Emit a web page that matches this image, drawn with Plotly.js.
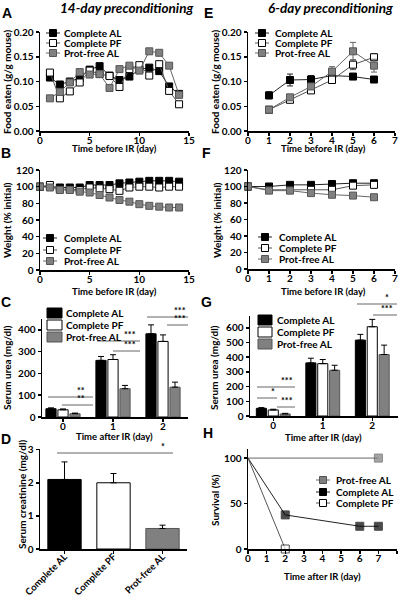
<!DOCTYPE html>
<html><head><meta charset="utf-8">
<script src="https://cdn.plot.ly/plotly-3.0.1.min.js"></script>
<style>html,body{margin:0;padding:0;background:#fff;}#chart{width:400px;height:600px;}</style>
</head><body><div id="chart"></div>
<script>
// ---------- DATA ----------
// A: food eaten, 14-day preconditioning
const daysA = [1,2,3,4,5,6,7,8,9,10,11,12,13,14];
const foodA_AL  = [0.108,0.094,0.100,0.107,0.124,0.131,0.112,0.103,0.110,0.124,0.128,0.121,0.090,0.075];
const foodA_PF  = [0.118,0.066,0.080,0.098,0.122,0.115,0.111,0.089,0.125,0.133,0.112,0.135,0.081,0.054];
const foodA_PrF = [0.066,0.079,0.098,0.119,0.114,0.115,0.087,0.125,0.132,0.122,0.161,0.158,0.132,0.073];
// B: weight, 14-day preconditioning
const daysB = [0,1,2,3,4,5,6,7,8,9,10,11,12,13,14];
const wtB_AL  = [100,100,99,99,99,102,102,102,104,105,106,107,107,107,106];
const wtB_PF  = [100,102,97,97,96,99,98,97,95,99,100,100,99,100,100];
const wtB_PrF = [100,99,96,96,94,93,90,87,84,82,79,77,76,75,75];
// E: food eaten, 6-day preconditioning
const daysE = [1,2,3,4,5,6];
const foodE_AL  = [0.072,0.103,0.104,0.112,0.110,0.104];
const foodE_AL_err  = [0.007,0.012,0.008,0.005,0.004,0.005];
const foodE_PF  = [0.043,0.063,0.082,0.103,0.134,0.149];
const foodE_PF_err  = [0.003,0.004,0.005,0.006,0.010,0.007];
const foodE_PrF = [0.043,0.068,0.090,0.120,0.161,0.132];
const foodE_PrF_err = [0.003,0.004,0.006,0.010,0.018,0.013];
// F: weight, 6-day preconditioning
const daysF = [0,1,2,3,4,5,6];
const wtF_AL  = [100,100,102,102,103,104,104];
const wtF_PF  = [100,96,96,96,96,101,102];
const wtF_PrF = [100,95,95,92,90,89,87];
// C: serum urea, 14-day
const daysIR = [0,1,2];
const ureaC_AL  = [38,260,382];   const ureaC_AL_err  = [4,18,41];
const ureaC_PF  = [33,264,347];   const ureaC_PF_err  = [4,22,30];
const ureaC_PrF = [15,130,137];   const ureaC_PrF_err = [3,15,23];
// G: serum urea, 6-day
const ureaG_AL  = [52,361,516];   const ureaG_AL_err  = [5,32,39];
const ureaG_PF  = [41,356,607];   const ureaG_PF_err  = [5,28,50];
const ureaG_PrF = [14,311,418];   const ureaG_PrF_err = [4,34,64];
// D: serum creatinine
const groupsD = ['Complete AL','Complete PF','Prot-free AL'];
const creatD = [2.1,2.0,0.62];
const creatD_err = [0.53,0.28,0.10];
// H: survival
const survPrF_x = [0,7];       const survPrF_y = [100,100];
const survAL_x  = [0,2,6,7];   const survAL_y  = [100,37.5,25,25];
const survPF_x  = [0,2];       const survPF_y  = [100,0];
// labels
const seriesNames = ['Complete AL','Complete PF','Prot-free AL'];

// ---------- STYLE ----------
const F = 'Lato, "Open Sans", sans-serif';
const W = 400, H = 600;
const px = v => v / W;
const py = v => 1 - v / H;
const dom = (a, b) => [a, b];
const BLACK = {fill:'#000', edge:'#000', line:'#222'};
const WHITE = {fill:'#fff', edge:'#000', line:'#555'};
const GRAY  = {fill:'#808080', edge:'#555', line:'#666'};
const styles = [BLACK, WHITE, GRAY];

function axis(domain, range, extra) {
  return Object.assign({
    domain: domain, range: range, showline: true, linecolor: '#000', linewidth: 1.5,
    ticks: 'outside', ticklen: 3, tickwidth: 1.5, tickcolor: '#000',
    showgrid: false, zeroline: false, fixedrange: true,
    tickfont: {family: F, size: 10, weight: 'bold', color: '#000'}
  }, extra || {});
}
function xaxis(domain, range, extra) {
  return axis(domain, range, Object.assign({ticklabelstandoff: -4}, extra || {}));
}

function lineTrace(x, y, st, xa, ya, err, sizes) {
  const t = {
    type: 'scatter', mode: 'lines+markers', x: x, y: y, xaxis: xa, yaxis: ya,
    showlegend: false, cliponaxis: false,
    line: {color: st.line, width: 1},
    marker: {symbol: 'square', size: sizes || 7, color: st.fill, line: {color: st.edge, width: 1}}
  };
  if (err) t.error_y = {type: 'data', array: err, visible: true, color: st.line, thickness: 1, width: 3};
  return t;
}
function barTrace(x, y, err, st, xa, ya, width) {
  const t = {
    type: 'bar', x: x, y: y, xaxis: xa, yaxis: ya, showlegend: false,
    marker: {color: st.fill, line: {color: st.edge, width: 1}},
    error_y: {type: 'data', symmetric: false, array: err, arrayminus: err.map(() => 0),
              visible: true, color: '#000', thickness: 1, width: 3}
  };
  if (width) t.width = width;
  return t;
}

const traces = [];
// A
traces.push(lineTrace(daysA, foodA_AL, BLACK, 'x', 'y'));
traces.push(lineTrace(daysA, foodA_PF, WHITE, 'x', 'y'));
traces.push(lineTrace(daysA, foodA_PrF, GRAY, 'x', 'y'));
// B
traces.push(lineTrace(daysB, wtB_AL, BLACK, 'x2', 'y2'));
traces.push(lineTrace(daysB, wtB_PF, WHITE, 'x2', 'y2'));
traces.push(lineTrace(daysB, wtB_PrF, GRAY, 'x2', 'y2'));
// C
traces.push(barTrace(daysIR, ureaC_AL, ureaC_AL_err, BLACK, 'x3', 'y3'));
traces.push(barTrace(daysIR, ureaC_PF, ureaC_PF_err, WHITE, 'x3', 'y3'));
traces.push(barTrace(daysIR, ureaC_PrF, ureaC_PrF_err, GRAY, 'x3', 'y3'));
// D
traces.push(Object.assign(barTrace(groupsD, creatD, creatD_err, BLACK, 'x4', 'y4', 0.68), {
  marker: {color: [BLACK.fill, WHITE.fill, GRAY.fill], line: {color: [BLACK.edge, WHITE.edge, GRAY.edge], width: 1}}
}));
// E
traces.push(lineTrace(daysE, foodE_AL, BLACK, 'x5', 'y5', foodE_AL_err));
traces.push(lineTrace(daysE, foodE_PF, WHITE, 'x5', 'y5', foodE_PF_err));
traces.push(lineTrace(daysE, foodE_PrF, GRAY, 'x5', 'y5', foodE_PrF_err));
// F
traces.push(lineTrace(daysF, wtF_AL, BLACK, 'x6', 'y6'));
traces.push(lineTrace(daysF, wtF_PF, WHITE, 'x6', 'y6'));
traces.push(lineTrace(daysF, wtF_PrF, GRAY, 'x6', 'y6'));
// G
traces.push(barTrace(daysIR, ureaG_AL, ureaG_AL_err, BLACK, 'x7', 'y7'));
traces.push(barTrace(daysIR, ureaG_PF, ureaG_PF_err, WHITE, 'x7', 'y7'));
traces.push(barTrace(daysIR, ureaG_PrF, ureaG_PrF_err, GRAY, 'x7', 'y7'));
// H
traces.push(lineTrace(survPrF_x, survPrF_y, GRAY, 'x8', 'y8', null, survPrF_x.map((v, i) => i === 0 ? 0 : 8)));
traces.push(lineTrace(survAL_x, survAL_y, BLACK, 'x8', 'y8', null, survAL_x.map((v, i) => i === 0 ? 0 : 8)));
traces.push(lineTrace(survPF_x, survPF_y, WHITE, 'x8', 'y8', null, survPF_x.map((v, i) => i === 0 ? 0 : 8)));

// ---------- AXES ----------
const xA = dom(px(40), px(189)), xE = dom(px(248), px(395));
const layout = {
  width: W, height: H, autosize: false, margin: {l: 0, r: 0, t: 0, b: 0},
  paper_bgcolor: '#fff', plot_bgcolor: 'rgba(0,0,0,0)',
  barmode: 'group', bargap: 0.28, bargroupgap: 0.15, showlegend: false,
  font: {family: F, color: '#000'},
  xaxis:  xaxis(xA, [0, 15], {anchor: 'y', dtick: 5, tick0: 0}),
  yaxis:  axis(dom(py(131), py(32)), [0, 0.2], {anchor: 'x', dtick: 0.05, tickformat: '.2f'}),
  xaxis2: xaxis(xA, [0, 15], {anchor: 'y2', dtick: 5, tick0: 0}),
  yaxis2: axis(dom(py(270), py(170)), [0, 120], {anchor: 'x2', dtick: 20}),
  xaxis3: xaxis(dom(px(42), px(188)), [-0.42, 2.5], {anchor: 'y3', tickvals: daysIR, ticktext: daysIR.map(String)}),
  yaxis3: axis(dom(py(417), py(319)), [0, 450], {anchor: 'x3', dtick: 100}),
  xaxis4: xaxis(dom(px(40), px(187)), [-0.5, 2.5], {anchor: 'y4', type: 'category', categoryorder: 'array', categoryarray: groupsD,
           tickangle: -45, ticklabelstandoff: -6, tickfont: {family: F, size: 9.5, weight: 'bold', color: '#000'}}),
  yaxis4: axis(dom(py(549), py(449)), [0, 3.02], {anchor: 'x4', dtick: 1}),
  xaxis5: xaxis(xE, [0, 7], {anchor: 'y5', dtick: 1}),
  yaxis5: axis(dom(py(131), py(32)), [0, 0.2], {anchor: 'x5', dtick: 0.05, tickformat: '.2f'}),
  xaxis6: xaxis(xE, [0, 7], {anchor: 'y6', dtick: 1}),
  yaxis6: axis(dom(py(269), py(170)), [0, 120], {anchor: 'x6', dtick: 20}),
  xaxis7: xaxis(dom(px(250), px(398)), [-0.47, 2.52], {anchor: 'y7', tickvals: daysIR, ticktext: daysIR.map(String)}),
  yaxis7: axis(dom(py(416), py(316)), [0, 680], {anchor: 'x7', dtick: 100}),
  xaxis8: xaxis(dom(px(248), px(397)), [0, 8], {anchor: 'y8', dtick: 1}),
  yaxis8: axis(dom(py(549), py(449)), [0, 110], {anchor: 'x8', tickvals: [0, 50, 100]}),
  annotations: [], shapes: []
};

// ---------- TEXT ----------
const ann = layout.annotations, shp = layout.shapes;
function text(t, x, y, o) {
  ann.push(Object.assign({text: t, x: px(x), y: py(y), xref: 'paper', yref: 'paper', showarrow: false,
    xanchor: 'center', yanchor: 'middle', font: {family: F, size: 10, weight: 'bold', color: '#000'}}, o || {}));
}
const TF = {family: F, size: 9.5, weight: 'bold', color: '#000'};
// headers
text('14-day preconditioning', 126, 8, {font: {family: F, size: 13.5, weight: 'bold', style: 'italic', color: '#000'}});
text('6-day preconditioning', 330, 8, {font: {family: F, size: 13.5, weight: 'bold', style: 'italic', color: '#000'}});
// panel letters
const LF = {family: '"Liberation Sans", Arial, sans-serif', size: 14, weight: 'bold', color: '#000'};
[['A', 7, 13], ['B', 6, 153], ['C', 6, 302], ['D', 6, 439], ['E', 208, 13], ['F', 206, 153], ['G', 207, 302], ['H', 208, 433]]
  .forEach(l => text(l[0], l[1], l[2], {font: LF}));
// y titles
const yt = (t, x, y) => text(t, x, y, {textangle: -90});
yt('Food eaten (g/g mouse)', 7, 82);
yt('Weight (% initial)', 7, 220);
yt('Serum urea (mg/dl)', 7, 368);
yt('Serum creatinine (mg/dl)', 22, 495);
yt('Food eaten (g/g mouse)', 215, 82);
yt('Weight (% initial)', 217, 220);
yt('Serum urea (mg/dl)', 214, 368);
yt('Survival (%)', 215, 500);
// x titles
const xt = (t, x, y) => text(t, x, y, {font: TF});
xt('Time before IR (day)', 115, 149);
xt('Time before IR (day)', 323, 149);
xt('Time before IR (day)', 115, 291);
xt('Time before IR (day)', 323, 291);
xt('Time after IR (day)', 115, 436);
xt('Time after IR (day)', 323, 437);
xt('Time after IR (day)', 322, 576);

// ---------- LEGENDS ----------
function lineLegend(symX, textX, rows, order) {
  order.forEach((k, i) => {
    const st = styles[k], y = rows[i];
    shp.push({type: 'line', xref: 'paper', yref: 'paper', x0: px(symX - 7), x1: px(symX + 7), y0: py(y), y1: py(y), line: {color: st.line, width: 1}});
    shp.push({type: 'rect', xref: 'paper', yref: 'paper', x0: px(symX - 3.5), x1: px(symX + 3.5), y0: py(y - 3.5), y1: py(y + 3.5), fillcolor: st.fill, line: {color: st.edge, width: 1}});
    text(seriesNames[k], textX, y, {xanchor: 'left'});
  });
}
function barLegend(x0, x1, textX, rows) {
  [0, 1, 2].forEach(k => {
    const st = styles[k], y = rows[k];
    shp.push({type: 'rect', xref: 'paper', yref: 'paper', x0: px(x0), x1: px(x1), y0: py(y - 5), y1: py(y + 5), fillcolor: st.fill, line: {color: st.edge, width: 1}});
    text(seriesNames[k], textX, y, {xanchor: 'left'});
  });
}
lineLegend(53, 62, [33, 43, 53], [0, 1, 2]);
lineLegend(262, 273, [33, 43, 53], [0, 1, 2]);
lineLegend(50, 62, [238, 250, 261], [0, 1, 2]);
lineLegend(265, 277, [237, 248, 259], [0, 1, 2]);
barLegend(47, 62, 64, [313, 325, 337]);
barLegend(258, 272, 275, [320, 332, 344]);
lineLegend(323, 334, [480, 492, 503], [2, 0, 1]);

// ---------- SIGNIFICANCE ----------
function sig(x0, x1, y, stars, sx) {
  shp.push({type: 'line', xref: 'paper', yref: 'paper', x0: px(x0), x1: px(x1), y0: py(y), y1: py(y), line: {color: '#666', width: 1}});
  text(stars, sx, y + 1, {yanchor: 'bottom', font: {family: F, size: 9, weight: 'bold', color: '#000'}});
}
sig(48, 93, 397, '**', 81);
sig(62, 93, 405, '**', 81);
sig(97, 140, 341, '***', 130);
sig(113, 140, 351, '***', 130);
sig(147, 188, 317, '***', 180);
sig(167, 188, 325, '***', 180);
sig(257, 295, 387, '***', 287);
sig(257, 277, 398, '*', 273);
sig(277, 295, 407, '***', 287);
sig(357, 397, 304, '*', 387);
sig(373, 397, 315, '***', 387);
sig(57, 173, 453, '*', 163);

Plotly.newPlot('chart', traces, layout, {staticPlot: true, displayModeBar: false});
</script>
</body></html>
